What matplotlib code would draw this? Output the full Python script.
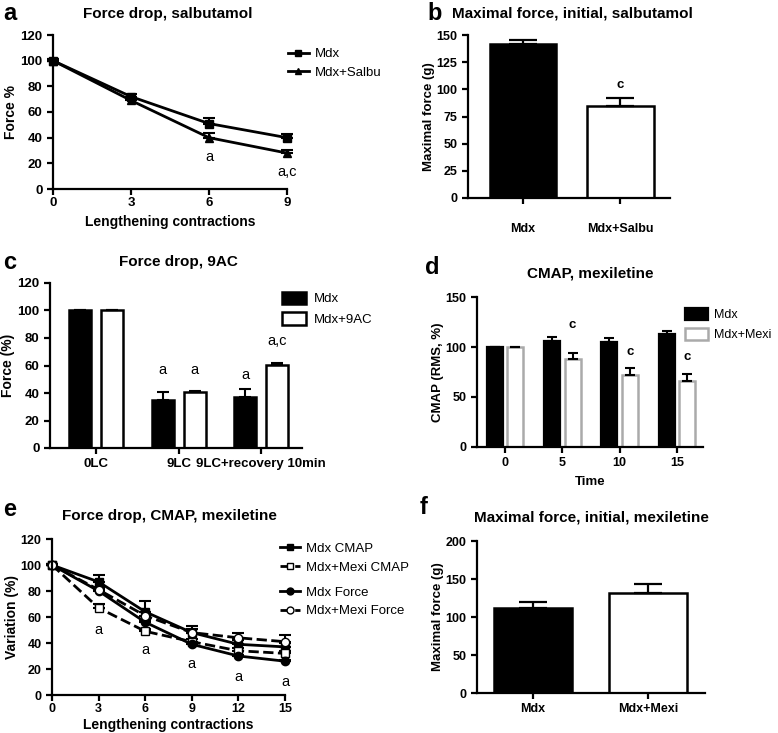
import numpy as np
import matplotlib
matplotlib.use('Agg')
import matplotlib.pyplot as plt
from matplotlib.lines import Line2D

plt.rcParams['font.family'] = ['Liberation Sans', 'DejaVu Sans']

# panel a
a_x = [0, 3, 6, 9]
a_mdx = [100, 72, 51, 40]
a_mdx_err = [1, 2, 4, 3]
a_salbu = [100, 69, 40, 28]
a_salbu_err = [1, 1.5, 3.5, 2.5]

# panel b
b_groups = ['Mdx', 'Mdx+Salbu']
b_vals = [142, 85]
b_err = [3, 7]

# panel c
c_groups = ['0LC', '9LC', '9LC+recovery 10min']
c_mdx = [100, 35, 37]
c_mdx_err = [0, 6, 6]
c_9ac = [100, 40.5, 60.5]
c_9ac_err = [0, 1, 1]

# panel d
d_times = ['0', '5', '10', '15']
d_mdx = [100, 106, 105, 113]
d_mdx_err = [0, 4, 4, 3]
d_mexi = [100, 88, 72, 66]
d_mexi_err = [0, 6, 7, 7]

# panel e
e_x = [0, 3, 6, 9, 12, 15]
e_mdx_cmap = [100, 87, 64, 48, 39, 37]
e_mdx_cmap_err = [1, 5, 8, 5, 3, 3]
e_mexi_cmap = [100, 67, 49, 41, 34, 32]
e_mexi_cmap_err = [1, 3, 2, 2, 2, 2]
e_mdx_force = [100, 80, 56, 39, 30, 26]
e_mdx_force_err = [1, 2, 2, 1, 1, 1]
e_mexi_force = [100, 81, 61, 48, 44, 41]
e_mexi_force_err = [1, 2, 3, 3, 4, 5]

# panel f
f_groups = ['Mdx', 'Mdx+Mexi']
f_vals = [112, 131]
f_err = [8, 12]

W, H = 778, 733
fig = plt.figure(figsize=(W / 100, H / 100), dpi=100)


def px_axes(x0, x1, ytop, ybot):
    return fig.add_axes([x0 / W, 1 - ybot / H, (x1 - x0) / W, (ybot - ytop) / H])


def style(ax, pad=2, size=9):
    for s in ['top', 'right']:
        ax.spines[s].set_visible(False)
    for s in ['left', 'bottom']:
        ax.spines[s].set_linewidth(1.6)
    ax.tick_params(width=1.6, length=4, labelsize=size)
    ax.tick_params(axis='x', pad=pad)
    for t in ax.get_xticklabels() + ax.get_yticklabels():
        t.set_fontweight('bold')


def panel_label(x, y, s):
    fig.text(x / W, 1 - y / H, s, fontsize=17, fontweight='bold', va='center', ha='left')


def title(x, y, s):
    fig.text(x / W, 1 - y / H, s, fontsize=11, fontweight='bold', va='center', ha='center')


# ---------- a ----------
ax = px_axes(53, 287, 35, 189)
ax.errorbar(a_x, a_mdx, yerr=[np.zeros(4), a_mdx_err], color='black', marker='s', ms=6,
            lw=2, capsize=4, capthick=1.5, elinewidth=1.5, clip_on=False, label='Mdx')
ax.errorbar(a_x, a_salbu, yerr=[np.zeros(4), a_salbu_err], color='black', marker='^', ms=6,
            lw=2, capsize=4, capthick=1.5, elinewidth=1.5, clip_on=False, label='Mdx+Salbu')
ax.set_xlim(0, 9)
ax.set_ylim(0, 120)
ax.set_xticks(a_x)
ax.set_yticks(range(0, 121, 20))
ax.set_xlabel('Lengthening contractions', fontsize=10, fontweight='bold', labelpad=4)
ax.set_ylabel('Force %', fontsize=10, fontweight='bold', labelpad=2)
ax.text(6, 25, 'a', ha='center', va='center', fontsize=10.5)
ax.text(9, 13, 'a,c', ha='center', va='center', fontsize=10.5)
style(ax, size=9.5)
ax.legend(handles=[Line2D([], [], color='black', marker='s', lw=2, ms=5, label='Mdx'),
                   Line2D([], [], color='black', marker='^', lw=2, ms=5, label='Mdx+Salbu')],
          loc='upper left', bbox_to_anchor=(0.98, 0.95), frameon=False, fontsize=9.5,
          handlelength=1.6, handletextpad=0.5, borderaxespad=0)
panel_label(3, 13, 'a')
title(168, 14, 'Force drop, salbutamol')

# ---------- b ----------
ax = px_axes(468, 670, 35, 198)
bx = np.arange(len(b_groups))
ax.bar(bx, b_vals, width=0.69, color=['black', 'white'], edgecolor='black', linewidth=1.8)
ax.errorbar(bx, b_vals, yerr=[np.zeros(2), b_err], fmt='none', ecolor='black',
            capsize=10, capthick=1.6, elinewidth=1.6)
ax.text(1, 104, 'c', ha='center', va='center', fontsize=9.5, fontweight='bold')
ax.set_xlim(-0.567, 1.515)
ax.set_ylim(0, 150)
ax.set_xticks(bx)
ax.set_xticklabels(b_groups)
ax.set_yticks(range(0, 151, 25))
ax.set_ylabel('Maximal force (g)', fontsize=9.5, fontweight='bold', labelpad=1)
style(ax, pad=14)
panel_label(427, 13, 'b')
title(572, 14, 'Maximal force, initial, salbutamol')

# ---------- c ----------
ax = px_axes(50, 302, 283, 448)
cx = np.arange(len(c_groups))
off = 0.194
w = 0.267
ax.bar(cx - off, c_mdx, width=w, color='black', edgecolor='black', linewidth=1.8, label='Mdx')
ax.bar(cx + off, c_9ac, width=w, color='white', edgecolor='black', linewidth=1.8, label='Mdx+9AC')
ax.errorbar(cx - off, c_mdx, yerr=[np.zeros(3), c_mdx_err], fmt='none', ecolor='black',
            capsize=4, capthick=1.5, elinewidth=1.5)
ax.errorbar(cx + off, c_9ac, yerr=[np.zeros(3), c_9ac_err], fmt='none', ecolor='black',
            capsize=4, capthick=1.5, elinewidth=1.5)
for xi, yi, s in [(1 - off, 57, 'a'), (1 + off, 57, 'a'), (2 - off, 53, 'a'), (2 + off, 78, 'a,c')]:
    ax.text(xi, yi, s, ha='center', va='center', fontsize=10.5)
ax.set_xlim(-0.558, 2.497)
ax.set_ylim(0, 120)
ax.set_xticks(cx)
ax.set_xticklabels(c_groups)
ax.set_yticks(range(0, 121, 20))
ax.set_ylabel('Force (%)', fontsize=10, fontweight='bold', labelpad=2)
style(ax, pad=3, size=9.5)
ax.legend(loc='upper left', bbox_to_anchor=(0.9, 0.98), frameon=False, fontsize=9.5,
          handlelength=1.8, handleheight=1.1, handletextpad=0.6, borderaxespad=0)
panel_label(3, 262, 'c')
title(178, 262, 'Force drop, 9AC')

# ---------- d ----------
ax = px_axes(477, 703, 297, 447)
dx = np.arange(len(d_times))
off = 0.178
w = 0.28
ax.bar(dx - off, d_mdx, width=w, color='black', edgecolor='black', linewidth=1.6, label='Mdx')
ax.bar(dx + off, d_mexi, width=w, color='white', edgecolor='#aaaaaa', linewidth=1.8, label='Mdx+Mexi')
ax.errorbar(dx - off, d_mdx, yerr=[np.zeros(4), d_mdx_err], fmt='none', ecolor='black',
            capsize=3.5, capthick=1.5, elinewidth=1.5)
ax.errorbar(dx + off, d_mexi, yerr=[np.zeros(4), d_mexi_err], fmt='none', ecolor='black',
            capsize=3.5, capthick=1.5, elinewidth=1.5)
for xi, yi in [(1, 122), (2, 95), (3, 90)]:
    ax.text(xi + off, yi, 'c', ha='center', va='center', fontsize=9.5, fontweight='bold')
ax.set_xlim(-0.489, 3.455)
ax.set_ylim(0, 150)
ax.set_xticks(dx)
ax.set_xticklabels(d_times)
ax.set_yticks([0, 50, 100, 150])
ax.set_xlabel('Time', fontsize=9.5, fontweight='bold', labelpad=5)
ax.set_ylabel('CMAP (RMS, %)', fontsize=9.5, fontweight='bold', labelpad=1)
style(ax, pad=3)
ax.legend(loc='upper left', bbox_to_anchor=(0.9, 0.96), frameon=False, fontsize=9,
          handlelength=1.8, handleheight=1.1, handletextpad=0.5, borderaxespad=0)
panel_label(425, 267, 'd')
title(590, 273, 'CMAP, mexiletine')

# ---------- e ----------
ax = px_axes(52, 285, 539, 695)
z = np.zeros(6)
kw = dict(color='black', lw=2, capsize=4, capthick=1.5, elinewidth=1.5, clip_on=False, ms=6)
ax.errorbar(e_x, e_mdx_cmap, yerr=[z, e_mdx_cmap_err], marker='s', ls='-', **kw)
ax.errorbar(e_x, e_mexi_cmap, yerr=[z, e_mexi_cmap_err], marker='s', ls='--', mfc='white', **kw)
ax.errorbar(e_x, e_mdx_force, yerr=[z, e_mdx_force_err], marker='o', ls='-', **kw)
ax.errorbar(e_x, e_mexi_force, yerr=[z, e_mexi_force_err], marker='o', ls='--', mfc='white', **kw)
for xi, yi in [(3, 50), (6, 35), (9, 24), (12, 14), (15, 10)]:
    ax.text(xi, yi, 'a', ha='center', va='center', fontsize=10.5)
ax.set_xlim(0, 15)
ax.set_ylim(0, 120)
ax.set_xticks(e_x)
ax.set_yticks(range(0, 121, 20))
ax.set_xlabel('Lengthening contractions', fontsize=10, fontweight='bold', labelpad=2)
ax.set_ylabel('Variation (%)', fontsize=10, fontweight='bold', labelpad=1)
style(ax)
h1 = [Line2D([], [], color='black', marker='s', lw=2, ms=5, label='Mdx CMAP'),
      Line2D([], [], color='black', marker='s', lw=2, ls='--', mfc='white', ms=5, label='Mdx+Mexi CMAP')]
h2 = [Line2D([], [], color='black', marker='o', lw=2, ms=5, label='Mdx Force'),
      Line2D([], [], color='black', marker='o', lw=2, ls='--', mfc='white', ms=5, label='Mdx+Mexi Force')]
leg1 = ax.legend(handles=h1, loc='upper left', bbox_to_anchor=(0.955, 1.01), frameon=False,
                 fontsize=9.5, handlelength=1.5, handletextpad=0.5, borderaxespad=0)
ax.add_artist(leg1)
ax.legend(handles=h2, loc='upper left', bbox_to_anchor=(0.955, 0.73), frameon=False,
          fontsize=9.5, handlelength=1.5, handletextpad=0.5, borderaxespad=0)
panel_label(3, 510, 'e')
title(169, 516, 'Force drop, CMAP, mexiletine')

# ---------- f ----------
ax = px_axes(477, 705, 541, 693)
fx = np.arange(len(f_groups))
ax.bar(fx, f_vals, width=0.68, color=['black', 'white'], edgecolor='black', linewidth=1.8)
ax.errorbar(fx, f_vals, yerr=[np.zeros(2), f_err], fmt='none', ecolor='black',
            capsize=10, capthick=1.6, elinewidth=1.6)
ax.set_xlim(-0.487, 1.496)
ax.set_ylim(0, 200)
ax.set_xticks(fx)
ax.set_xticklabels(f_groups)
ax.set_yticks(range(0, 201, 50))
ax.set_ylabel('Maximal force (g)', fontsize=9.5, fontweight='bold', labelpad=1)
style(ax, pad=3)
panel_label(420, 507, 'f')
title(591, 517, 'Maximal force, initial, mexiletine')

fig.savefig('out.png', dpi=100)
